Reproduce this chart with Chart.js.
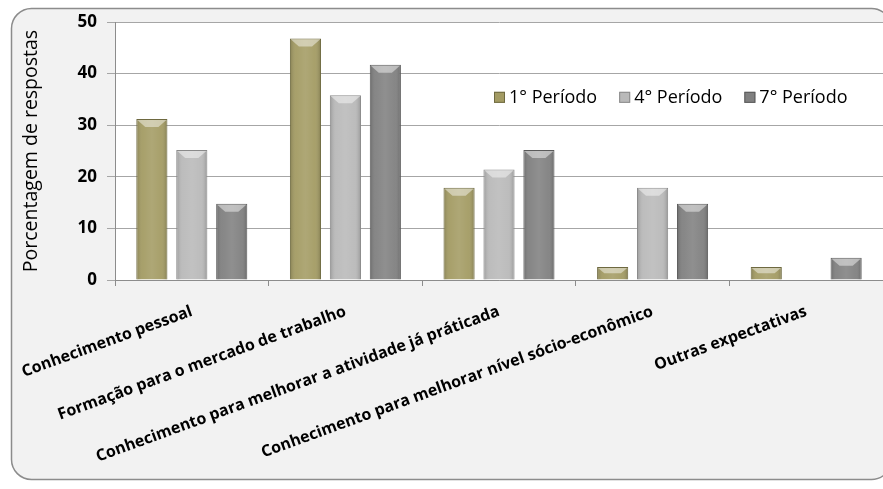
<!DOCTYPE html>
<html>
<head>
<meta charset="utf-8">
<script src="https://cdn.jsdelivr.net/npm/chart.js@4.4.1/dist/chart.umd.min.js"></script>
<style>
  html, body { margin: 0; padding: 0; background: #ffffff; }
  #wrap { width: 883px; height: 489px; }
</style>
</head>
<body>
<div id="wrap"><canvas id="chart" width="883" height="489"></canvas></div>
<script>
const categories = [
    'Conhecimento pessoal',
    'Formação para o mercado de trabalho',
    'Conhecimento para melhorar a atividade já práticada',
    'Conhecimento para melhorar nível sócio-econômico',
    'Outras expectativas'
];
const seriesNames = ['1° Período', '4° Período', '7° Período'];
const periodo1 = [31.2, 46.8, 17.9, 2.5, 2.5];
const periodo4 = [25.2, 35.8, 21.4, 17.9, 0];
const periodo7 = [14.8, 41.7, 25.2, 14.8, 4.3];
const yTicks = [0, 10, 20, 30, 40, 50];

const FONT = '"Open Sans", Lato, sans-serif';
const fills = ['#a39b63', '#b9b9b9', '#808080'];
const edges = ['#6e6940', '#8a8a8a', '#5a5a5a'];

// rounded grey frame + white plot area
const framePlugin = {
    id: 'frame',
    beforeDraw(chart) {
        const ctx = chart.ctx;
        const a = chart.chartArea;
        ctx.save();
        ctx.beginPath();
        ctx.roundRect(11.5, 8.5, 880, 471, 20);
        ctx.fillStyle = '#f2f2f2';
        ctx.fill();
        ctx.strokeStyle = '#8c8c8c';
        ctx.lineWidth = 1.5;
        ctx.stroke();
        ctx.fillStyle = '#ffffff';
        ctx.fillRect(a.left, a.top, a.right - a.left, a.bottom - a.top);
        ctx.restore();
    }
};

// bevel shading on top of each bar
const bevelPlugin = {
    id: 'bevel',
    afterDatasetsDraw(chart) {
        const ctx = chart.ctx;
        chart.data.datasets.forEach((ds, di) => {
            chart.getDatasetMeta(di).data.forEach(bar => {
                const left = bar.x - bar.width / 2;
                const right = bar.x + bar.width / 2;
                const top = bar.y;
                const bottom = bar.base;
                if (bottom - top < 1) return;
                ctx.save();
                const g = ctx.createLinearGradient(left, 0, right, 0);
                g.addColorStop(0, 'rgba(0,0,0,0.18)');
                g.addColorStop(0.2, 'rgba(255,255,255,0.05)');
                g.addColorStop(0.5, 'rgba(255,255,255,0.12)');
                g.addColorStop(0.8, 'rgba(255,255,255,0.05)');
                g.addColorStop(1, 'rgba(0,0,0,0.2)');
                ctx.fillStyle = g;
                ctx.fillRect(left + 1, top + 1, right - left - 2, bottom - top - 1);
                const bev = Math.min(8, (bottom - top) / 2);
                ctx.beginPath();
                ctx.moveTo(left + 1, top + 1);
                ctx.lineTo(right - 1, top + 1);
                ctx.lineTo(right - 1 - bev, top + bev);
                ctx.lineTo(left + 1 + bev, top + bev);
                ctx.closePath();
                ctx.fillStyle = 'rgba(255,255,255,0.45)';
                ctx.fill();
                ctx.restore();
            });
        });
    }
};

// legend drawn inside the plot area
const legendPlugin = {
    id: 'innerLegend',
    afterDraw(chart) {
        const ctx = chart.ctx;
        const y = chart.scales.y.getPixelForValue(35.5);
        let x = 494;
        ctx.save();
        ctx.font = '18px ' + FONT;
        ctx.textBaseline = 'middle';
        chart.data.datasets.forEach((ds, i) => {
            ctx.fillStyle = ds.backgroundColor;
            ctx.fillRect(x, y - 5, 11, 11);
            ctx.strokeStyle = ds.borderColor;
            ctx.lineWidth = 1;
            ctx.strokeRect(x + 0.5, y - 4.5, 10, 10);
            ctx.fillStyle = '#000';
            ctx.fillText(ds.label, x + 15, y + 1);
            x += 15 + ctx.measureText(ds.label).width + 22;
        });
        ctx.restore();
    }
};

const values = [periodo1, periodo4, periodo7];

new Chart(document.getElementById('chart'), {
    type: 'bar',
    data: {
        labels: categories,
        datasets: seriesNames.map((name, i) => ({
            label: name,
            data: values[i],
            backgroundColor: fills[i],
            borderColor: edges[i],
            borderWidth: 1,
            categoryPercentage: 0.78,
            barPercentage: 0.78
        }))
    },
    options: {
        responsive: false,
        animation: false,
        devicePixelRatio: 1,
        layout: { padding: { left: 20, top: 22, right: 0, bottom: 0 } },
        plugins: {
            legend: { display: false },
            tooltip: { enabled: false }
        },
        scales: {
            x: {
                grid: { offset: true, drawOnChartArea: false, tickLength: 6, color: '#8c8c8c' },
                border: { color: '#8c8c8c' },
                ticks: {
                    color: '#000',
                    font: { family: FONT, size: 16, weight: 'bold' },
                    maxRotation: 20,
                    minRotation: 20,
                    autoSkip: false,
                    padding: 16
                },
                afterFit: s => { s.height = 209; s.paddingLeft = 0; s.paddingRight = 0; }
            },
            y: {
                min: 0,
                max: 50,
                afterBuildTicks: s => { s.ticks = yTicks.map(v => ({ value: v })); },
                grid: { color: '#a6a6a6', tickLength: 8 },
                border: { color: '#8c8c8c' },
                ticks: {
                    color: '#000',
                    font: { family: FONT, size: 17, weight: 'bold' },
                    padding: 10
                },
                title: {
                    display: true,
                    text: 'Porcentagem de respostas',
                    color: '#000',
                    font: { family: FONT, size: 19.5 },
                    padding: 0
                },
                afterFit: s => { s.width = 95; s.paddingTop = 0; s.paddingBottom = 0; }
            }
        }
    },
    plugins: [framePlugin, bevelPlugin, legendPlugin]
});
</script>
</body>
</html>
